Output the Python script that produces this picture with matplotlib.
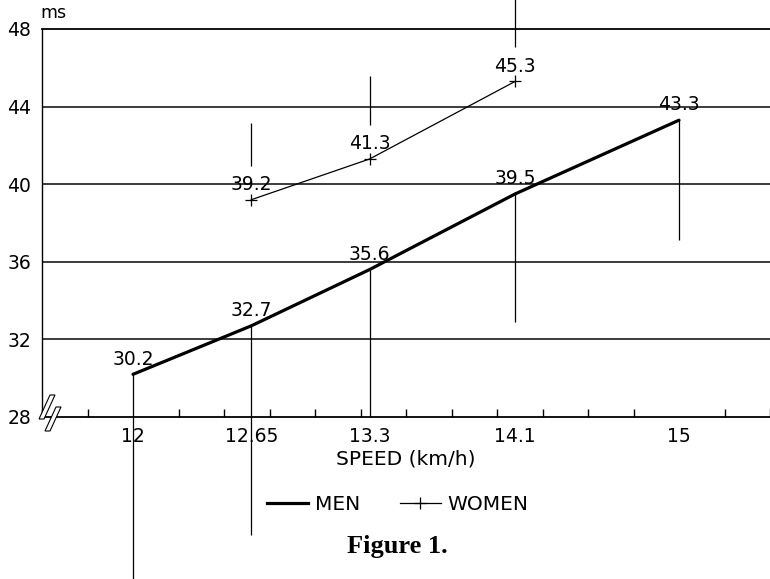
import matplotlib.pyplot as plt
from matplotlib.lines import Line2D
from matplotlib.patches import Polygon
from matplotlib.ticker import MultipleLocator

# reading times (ms) against running speed
speeds_men = [12, 12.65, 13.3, 14.1, 15]
ms_men = [30.2, 32.7, 35.6, 39.5, 43.3]
sd_men = [11.0, 10.8, 7.6, 6.6, 6.2]      # drawn downwards

speeds_women = [12.65, 13.3, 14.1]
ms_women = [39.2, 41.3, 45.3]
sd_women = [3.95, 4.3, 4.6]               # drawn upwards

speed_ticks = [12, 12.65, 13.3, 14.1, 15]
speed_labels = ["12", "12.65", "13.3", "14.1", "15"]
ms_ticks = [28, 32, 36, 40, 44, 48]

plt.rcParams['font.family'] = ['DejaVu Sans']

W, H = 770, 579
fig = plt.figure(figsize=(W / 100, H / 100), dpi=100)
ax = fig.add_axes([42 / W, 1 - 417 / H, 1 - 42 / W, (417 - 29) / H])

ax.set_xlim(11.5, 15.5)
ax.set_ylim(28, 48)

# horizontal grid
for y in ms_ticks[1:-1]:
    ax.axhline(y, color='#1a1a1a', lw=1.2, zorder=1)

# men: thick line, sd lines going down
ax.plot(speeds_men, ms_men, color='black', lw=2.3, solid_capstyle='round', zorder=3)
ax.vlines(speeds_men, [m - s for m, s in zip(ms_men, sd_men)], ms_men,
          color='black', lw=0.9, clip_on=False, zorder=2)

# women: thin line with + markers, sd lines going up (gap left for the label)
gap = 1.75
ax.plot(speeds_women, ms_women, color='black', lw=0.9, marker='+', ms=9,
        mew=0.9, zorder=3)
ax.vlines(speeds_women, [m + gap for m in ms_women],
          [m + s for m, s in zip(ms_women, sd_women)],
          color='black', lw=0.9, clip_on=False, zorder=2)

for x, y in list(zip(speeds_men, ms_men)) + list(zip(speeds_women, ms_women)):
    ax.annotate(f"{y:.1f}", (x, y), xytext=(0, 11), textcoords='offset points',
                ha='center', va='center', fontsize=13.5, zorder=4)

# axes / ticks
ax.set_xticks(speed_ticks)
ax.set_xticklabels(speed_labels)
ax.xaxis.set_minor_locator(MultipleLocator(0.25))
ax.tick_params(axis='x', which='major', length=0, pad=7, labelsize=13.5)
ax.tick_params(axis='x', which='minor', direction='in', length=6, width=1)
ax.set_yticks(ms_ticks)
ax.tick_params(axis='y', length=0, pad=8, labelsize=13.5)
ax.spines['right'].set_visible(False)
for side in ['top', 'bottom']:
    ax.spines[side].set_linewidth(1.3)
ax.spines['left'].set_linewidth(1.0)
ax.set_xlabel("SPEED (km/h)", fontsize=14.5, labelpad=3)

fig.text(40 / W, 1 - 13 / H, "ms", fontsize=12.5, ha='left', va='center')

# axis break marks near the origin
for cx, cy in [(47, 407), (53, 419)]:
    pts = [(cx + 3, cy - 12), (cx + 8, cy - 12), (cx - 3, cy + 12), (cx - 8, cy + 12)]
    fig.patches.append(Polygon([(px / W, 1 - py / H) for px, py in pts],
                               closed=True, transform=fig.transFigure,
                               fc='white', ec='black', lw=0.8, zorder=5))

handles = [Line2D([], [], color='black', lw=2.3),
           Line2D([], [], color='black', lw=0.9, marker='+', ms=9, mew=0.9)]
fig.legend(handles, ["MEN", "WOMEN"], loc='center', ncol=2, frameon=False,
           bbox_to_anchor=(398 / W, 1 - 505 / H), fontsize=14.5,
           handlelength=2.0, handletextpad=0.35, columnspacing=2.0, numpoints=1)

fig.text(397 / W, 1 - 547 / H, "Figure 1.", fontsize=19, fontweight='bold',
         family='Liberation Serif', ha='center', va='center')

plt.savefig("out.png", dpi=100)
